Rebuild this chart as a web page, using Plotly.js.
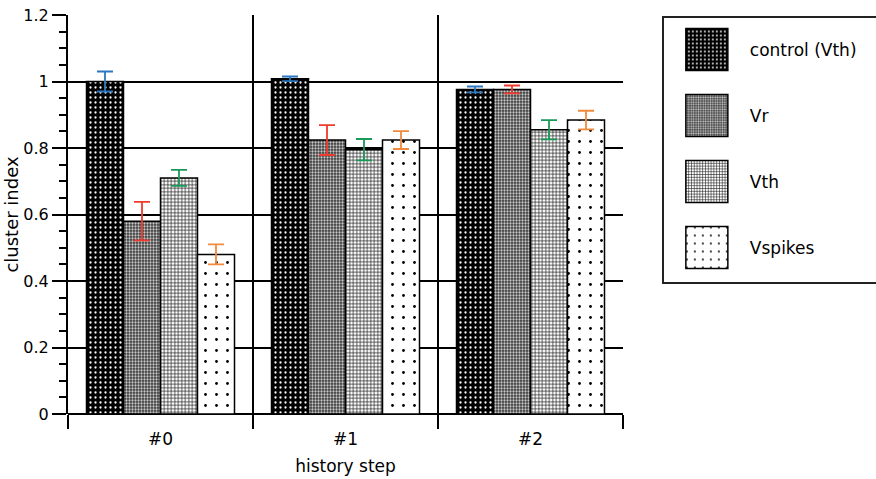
<!DOCTYPE html>
<html>
<head>
<meta charset="utf-8">
<script src="https://cdn.plot.ly/plotly-3.0.1.min.js"></script>
<style>
html,body{margin:0;padding:0;background:#fff;}
#chart{width:876px;height:479px;}
</style>
</head>
<body>
<div id="chart"></div>
<script>
const categories = ["#0", "#1", "#2"];
const seriesNames = ["control (Vth)", "Vr", "Vth", "Vspikes"];
const controlVals = [1.0, 1.008, 0.976];
const controlErr  = [0.03, 0.007, 0.009];
const vrVals      = [0.58, 0.824, 0.976];
const vrErr       = [0.058, 0.045, 0.012];
const vthVals     = [0.71, 0.795, 0.855];
const vthErr      = [0.024, 0.032, 0.029];
const vspikesVals = [0.48, 0.824, 0.884];
const vspikesErr  = [0.03, 0.027, 0.028];

const values = [controlVals, vrVals, vthVals, vspikesVals];
const errors = [controlErr, vrErr, vthErr, vspikesErr];
const errColors = ["#2a78c0", "#ee3b2b", "#1a9a58", "#f08a3c"];
const patterns = [
  {shape: ".", bgcolor: "#000000", fgcolor: "#ffffff", size: 5, solidity: 0.16, fillmode: "replace"},
  {shape: ".", bgcolor: "#3a3a3a", fgcolor: "#c8c8c8", size: 3, solidity: 0.45, fillmode: "replace"},
  {shape: "+", bgcolor: "#ffffff", fgcolor: "#111111", size: 3.5, solidity: 0.35, fillmode: "replace"},
  {shape: ".", bgcolor: "#ffffff", fgcolor: "#000000", size: 11, solidity: 0.05, fillmode: "replace"}
];

const traces = seriesNames.map((name, i) => ({
  type: "bar",
  name: name,
  x: categories,
  y: values[i],
  legendgroup: "g" + i,
  marker: {color: patterns[i].bgcolor, pattern: patterns[i], line: {color: "#000", width: 1.5}},
  error_y: {type: "data", array: errors[i], visible: true, color: errColors[i], thickness: 1.8, width: 8}
}));

const font = "DejaVu Sans, Verdana, sans-serif";
const layout = {
  width: 876, height: 479,
  margin: {l: 68, r: 253, t: 15, b: 65},
  paper_bgcolor: "#fff", plot_bgcolor: "#fff",
  barmode: "group", bargap: 0.2, bargroupgap: 0,
  font: {family: font, size: 15, color: "#000"},
  showlegend: true,
  legend: {
    x: 1.07, y: 0.9975, xanchor: "left", yanchor: "top",
    bordercolor: "#222", borderwidth: 2, bgcolor: "#fff",
    font: {family: font, size: 17, color: "#000"},
    traceorder: "grouped", tracegroupgap: 40, itemwidth: 76,
    valign: "middle"
  },
  xaxis: {
    type: "category", range: [-0.5, 2.5],
    tickson: "boundaries", ticks: "outside", ticklen: 14, tickwidth: 2, tickcolor: "#000",
    ticklabelstandoff: 13,
    showgrid: true, gridcolor: "#000", gridwidth: 2,
    showline: false, zeroline: false,
    tickfont: {family: font, size: 17},
    title: {text: "history step", font: {family: font, size: 17}, standoff: 12}
  },
  yaxis: {
    range: [0, 1.2], dtick: 0.2, tickformat: "~g",
    ticks: "outside", ticklen: 14, tickwidth: 2, tickcolor: "#000",
    minor: {dtick: 0.05, ticks: "outside", ticklen: 7, tickwidth: 2, tickcolor: "#000", showgrid: false},
    showgrid: true, gridcolor: "#000", gridwidth: 2,
    showline: true, linecolor: "#000", linewidth: 2,
    zeroline: true, zerolinecolor: "#000", zerolinewidth: 2,
    tickfont: {family: font, size: 16},
    title: {text: "cluster index", font: {family: font, size: 18}, standoff: 0}
  }
};

Plotly.newPlot("chart", traces, layout, {displayModeBar: false, staticPlot: true}).then(() => {
  document.querySelectorAll("#chart .legend .legendpoints path").forEach(p => {
    p.setAttribute("d", "M21,21H-21V-21H21Z");
  });
  const leg = document.querySelector("#chart .legend");
  if (!leg) return;
  const bg = leg.querySelector("rect.bg");
  const items = Array.from(leg.querySelectorAll("g.traces"));
  if (bg && items.length) {
    const desiredFirst = 49.5;
    const spacing = 66;
    items.forEach((it, k) => {
      const pt = it.querySelector(".legendpoints path").getBoundingClientRect();
      const cur = pt.top + pt.height / 2;
      const want = desiredFirst + spacing * k;
      const tr = it.getAttribute("transform") || "";
      const m = tr.match(/translate\(([-\d.]+)[ ,]+([-\d.]+)\)/);
      if (m) {
        const nx = parseFloat(m[1]);
        const ny = parseFloat(m[2]) + (want - cur);
        it.setAttribute("transform", "translate(" + nx + "," + ny + ")");
      }
    });
    bg.setAttribute("width", 240);
    bg.setAttribute("height", 266);
    document.querySelectorAll("#chart defs clipPath[id^='legend'] rect").forEach(r => {
      r.setAttribute("width", 240);
      r.setAttribute("height", 266);
    });
  }
});
</script>
</body>
</html>
